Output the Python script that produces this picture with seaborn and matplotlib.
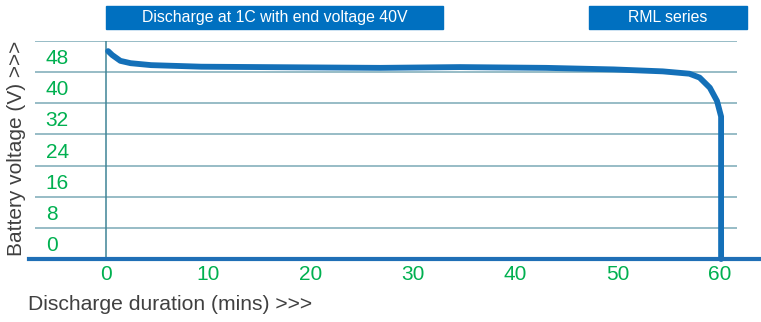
import matplotlib
matplotlib.use("Agg")
import matplotlib.pyplot as plt
from matplotlib.patches import Rectangle
import seaborn as sns
import pandas as pd

# ---- data ----
minutes = [0.2, 0.6, 1.4, 2.4, 4.4, 9.3, 26.8, 34.6, 43.0, 49.6, 54.4, 57.0, 58.0, 59.0, 59.7, 60.1, 60.1]
voltage = [53.4, 52.4, 50.9, 50.3, 49.8, 49.4, 49.1, 49.3, 49.1, 48.7, 48.2, 47.6, 46.6, 44.0, 40.6, 36.6, 0.0]
x_ticks = [0, 10, 20, 30, 40, 50, 60]
y_grid = [8, 16, 24, 32, 40, 48, 56]
y_label_pos = [4, 12, 20, 28, 36, 44, 52]
y_labels = ["0", "8", "16", "24", "32", "40", "48"]
title_left = "Discharge at 1C with end voltage 40V"
title_right = "RML series"
x_title = "Discharge duration (mins) >>>"
y_title = "Battery voltage (V) >>>"

df = pd.DataFrame({"minutes": minutes, "voltage": voltage})

sns.set_theme(style="white")
plt.rcParams["font.family"] = ["Liberation Sans", "DejaVu Sans"]

W, H = 761, 322
fig = plt.figure(figsize=(W / 100, H / 100), dpi=100)
ax = fig.add_axes([29 / W, 1 - 259 / H, (761 - 29) / W, (259 - 41) / H])

x0, x1 = -7.53, 64.0
ax.set_xlim(x0, x1)
ax.set_ylim(0, 56)

grid_c = "#7AAAB6"
green = "#00B050"
blue = "#0070C0"

# horizontal grid lines
ax.hlines(y_grid, -6.94, 61.66, color=grid_c, lw=1.1, zorder=1)
# vertical line at x=0
ax.vlines([0], 0, 56, color="#3F8496", lw=1.1, zorder=1)

sns.lineplot(data=df, x="minutes", y="voltage", ax=ax, color="#1470B8", lw=4.2,
             sort=False, estimator=None, solid_capstyle="round", solid_joinstyle="round",
             zorder=3, clip_on=False)

for s in ["top", "right", "left"]:
    ax.spines[s].set_visible(False)
ax.spines["bottom"].set_color("#1F6FB6")
ax.spines["bottom"].set_linewidth(3)
ax.spines["bottom"].set_zorder(4)

ax.set_xticks(x_ticks)
ax.set_xticklabels([str(t) for t in x_ticks])
ax.tick_params(axis="x", length=0, pad=4.5, labelsize=15, labelcolor=green)
ax.set_yticks(y_label_pos)
ax.set_yticklabels(y_labels)
ax.tick_params(axis="y", length=0, pad=-12, labelsize=15, labelcolor=green)
for lab in ax.get_yticklabels():
    lab.set_horizontalalignment("left")
ax.set_xlabel("")
ax.set_ylabel("")

# title boxes
def box(x_a, x_b, text):
    fig.patches.append(Rectangle((x_a / W, 1 - 29 / H), (x_b - x_a) / W, 23 / H,
                                 transform=fig.transFigure, color=blue, zorder=0))
    fig.text((x_a + x_b) / 2 / W, 1 - 17.5 / H, text, color="white", fontsize=11.4,
             ha="center", va="center")

box(106, 443, title_left)
box(589, 747, title_right)

fig.text(28 / W, 1 - 305 / H, x_title, color="#404040", fontsize=15.2, ha="left", va="center")
fig.text(17 / W, 1 - 148 / H, y_title, color="#404040", fontsize=15, ha="center", va="center",
         rotation=90)

fig.savefig("out.png", dpi=100)
